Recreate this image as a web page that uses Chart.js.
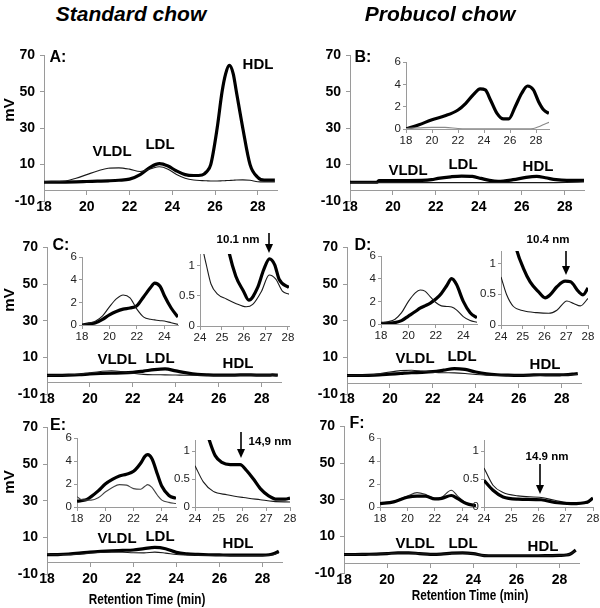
<!DOCTYPE html>
<html>
<head>
<meta charset="utf-8">
<script src="https://cdn.jsdelivr.net/npm/chart.js@4.4.1/dist/chart.umd.min.js"></script>
<style>
  body { margin: 0; background: #fff; }
  #fig { position: relative; width: 600px; height: 608px; overflow: hidden; background: #fff;
         font-family: "Liberation Sans", Arial, Helvetica, sans-serif; color: #000; }
  #fig canvas { position: absolute; }
  .lbl { position: absolute; font-weight: bold; white-space: nowrap; line-height: 1;
         transform: translate(-50%, -50%); }
  .title { font-size: 21px; font-style: italic; }
  .peak { font-size: 15px; }
  .panel { font-size: 16px; }
  .nm { font-size: 11.5px; }
  .axis { font-size: 14px; transform: translate(-50%, -50%) scaleX(0.84); }
  .mv { font-size: 15px; transform: translate(-50%, -50%) rotate(-90deg); }
  #arrows { position: absolute; left: 0; top: 0; }
</style>
</head>
<body>
<div id="fig"></div>
<script>
// ---- data (retention time in min, signal in mV) ----
const mainXTicks = [18, 20, 22, 24, 26, 28];
const mainYTicks = [-10, 10, 30, 50, 70];
const insetXTicks = [18, 20, 22, 24];
const insetBXTicks = [18, 20, 22, 24, 26, 28];
const insetYTicks = [0, 2, 4, 6];
const zoomXTicks = [24, 25, 26, 27, 28];
const zoomYTicks = [0, 0.5, 1];

// A: standard chow
const tA = [18, 19, 19.5, 20, 20.5, 21, 21.5, 22, 22.5, 23, 23.4, 23.8, 24.2, 24.6, 25, 25.4, 25.6, 25.8, 26.1, 26.33, 26.5, 26.67, 26.85, 27, 27.3, 27.64, 28, 28.3, 28.8];
const thickA = [0.3, 0.4, 0.5, 0.7, 0.9, 1.1, 1.4, 2.0, 4.5, 8.8, 10.5, 9.2, 6.5, 4.5, 4.0, 4.3, 6, 10, 30, 50, 60, 64.5, 60, 50, 30, 10, 3, 1.5, 1.5];
const thinA = [0.5, 1.0, 2.5, 4.5, 6.5, 8.0, 8.2, 7.5, 6.2, 7.8, 8.8, 7.5, 4.5, 2.5, 1.5, 1.2, 1.1, 1.0, 1.0, 1.1, 1.2, 1.3, 1.4, 1.5, 1.6, 1.4, 0.6, 0.5, 0.5];

// B: probucol chow
const tB = [18, 19.26, 19.34, 20.7, 21.8, 22.1, 22.7, 23.2, 23.7, 24.1, 24.5, 24.9, 25.6, 26.2, 26.7, 27.1, 27.6, 28.1, 28.9];
const thickB = [0.3, 0.3, 1.2, 1.2, 1.7, 2.4, 3.3, 3.7, 3.5, 2.4, 1.3, 0.8, 1.7, 3.0, 3.5, 2.8, 1.7, 1.3, 1.3];
const thinB = [0.1, 0.1, 0.1, 0.1, 0.1, 0.1, 0.1, 0.1, 0.1, 0.1, 0.1, 0.1, 0.1, 0.1, 0.1, 0.1, 0.1, 0.2, 0.5];
const tBi = [18, 19, 20, 21, 22, 22.6, 23.2, 23.7, 24.1, 24.5, 25, 25.5, 25.9, 26.4, 26.9, 27.35, 27.8, 28.2, 28.6, 29];
const thickBi = [0, 0.38, 0.83, 1.18, 1.7, 2.3, 3.1, 3.6, 3.5, 2.6, 1.4, 0.9, 0.9, 2.0, 3.2, 3.85, 3.5, 2.45, 1.7, 1.4];
const thinBi = [0.05, 0.1, 0.15, 0.15, 0.05, 0.02, 0.02, 0.02, 0.02, 0.02, 0.02, 0.02, 0.02, 0.02, 0.02, 0.02, 0.05, 0.2, 0.4, 0.6];

// C to F main traces share one time grid
const tMain = [18, 18.5, 19, 19.5, 20, 20.5, 21, 21.5, 22, 22.5, 23, 23.5, 24, 24.5, 25, 25.5, 26, 26.5, 27, 27.5, 28, 28.3, 28.5, 28.75];
const thickC = [0.2, 0.2, 0.3, 0.5, 0.9, 1.2, 1.4, 1.5, 1.8, 2.5, 3.3, 3.7, 2.6, 1.5, 0.7, 0.4, 0.3, 0.3, 0.4, 0.4, 0.3, 0.3, 0.4, 0.3];
const thinC = [0.1, 0.2, 0.4, 0.8, 1.6, 2.3, 2.7, 2.2, 1.3, 0.7, 0.5, 0.45, 0.35, 0.25, 0.2, 0.2, 0.2, 0.2, 0.3, 0.3, 0.3, 0.3, 0.3, 0.3];
const thickD = [0.1, 0.1, 0.2, 0.4, 0.8, 1.2, 1.6, 1.8, 2.2, 3.0, 3.9, 3.4, 2.0, 1.0, 0.5, 0.3, 0.2, 0.3, 0.5, 0.4, 0.5, 0.6, 0.8, 1.2];
const thinD = [0.1, 0.2, 0.4, 1.0, 2.0, 2.75, 3.0, 2.5, 1.9, 1.6, 1.55, 1.2, 0.6, 0.3, 0.2, 0.2, 0.2, 0.2, 0.3, 0.3, 0.4, 0.4, 0.5, 0.6];
const thickE = [0.5, 0.6, 0.9, 1.4, 2.0, 2.4, 2.7, 2.9, 3.1, 3.8, 4.5, 3.8, 1.8, 1.0, 0.7, 0.5, 0.4, 0.3, 0.25, 0.3, 0.3, 0.5, 1.0, 2.5];
const thinE = [0.8, 0.6, 0.6, 0.8, 1.3, 1.7, 1.95, 1.9, 1.6, 1.55, 1.95, 1.4, 0.6, 0.4, 0.3, 0.2, 0.2, 0.15, 0.1, 0.1, 0.1, 0.2, 0.5, 1.5];
const thickF = [0.1, 0.1, 0.2, 0.3, 0.6, 1.0, 1.0, 0.6, 0.2, 0.3, 0.8, 1.0, 0.6, -0.5, -0.6, -0.6, -0.6, -0.6, -0.6, -0.5, -0.4, -0.2, 0.4, 2.5];
const thinF = [0.1, 0.1, 0.2, 0.3, 0.6, 0.9, 0.9, 0.6, 0.2, 0.3, 0.7, 0.9, 0.5, -0.5, -0.6, -0.6, -0.6, -0.6, -0.6, -0.5, -0.4, -0.2, 0.4, 2.2];

// insets, VLDL/LDL range (0-6 mV)
const tCl = [18, 18.5, 19, 19.5, 20, 20.5, 21, 21.5, 22, 22.5, 23, 23.3, 23.7, 24, 24.5, 25];
const thickCl = [0, 0.1, 0.2, 0.5, 0.9, 1.2, 1.4, 1.5, 1.7, 2.5, 3.3, 3.7, 3.4, 2.6, 1.5, 0.7];
const thinCl = [0, 0.15, 0.35, 0.8, 1.6, 2.3, 2.65, 2.4, 1.4, 0.7, 0.5, 0.45, 0.38, 0.35, 0.2, 0.05];
const tDl = [18, 18.5, 19, 19.5, 20, 20.5, 20.85, 21.2, 21.6, 22, 22.4, 22.8, 23.15, 23.5, 24, 24.5, 25];
const thickDl = [0.05, 0.08, 0.12, 0.3, 0.7, 1.1, 1.4, 1.6, 1.85, 2.2, 2.7, 3.4, 4.0, 3.5, 2.0, 1.0, 0.55];
const thinDl = [0.1, 0.2, 0.4, 1.0, 2.0, 2.75, 3.0, 2.9, 2.4, 1.9, 1.6, 1.55, 1.5, 1.25, 0.65, 0.3, 0.15];
const tEl = [18, 18.3, 18.7, 19, 19.5, 20, 20.5, 21, 21.5, 22, 22.5, 22.8, 23, 23.3, 23.7, 24, 24.5, 25];
const thickEl = [0.5, 0.55, 0.65, 0.9, 1.4, 2.0, 2.4, 2.7, 2.85, 3.1, 3.8, 4.4, 4.55, 4.2, 2.8, 1.8, 1.0, 0.75];
const thinEl = [0.9, 0.65, 0.6, 0.6, 0.8, 1.3, 1.7, 1.95, 1.9, 1.6, 1.55, 1.8, 1.95, 1.7, 1.0, 0.6, 0.4, 0.3];
const tFl = [18, 19, 20, 20.7, 21.3, 22, 22.5, 23.2, 23.7, 24.3, 25];
const thickFl = [0.3, 0.45, 0.85, 0.95, 0.95, 0.7, 0.75, 1.0, 0.7, 0.3, 0.1];
const thinFl = [0.35, 0.5, 0.95, 1.25, 1.1, 0.75, 0.85, 1.45, 0.9, 0.35, 0.1];

// insets, HDL range (0-1.2 mV)
const tCrThin = [24, 24.15, 24.3, 24.5, 24.8, 25.2, 25.6, 26.1, 26.4, 26.8, 27.15, 27.45, 27.75, 28.05];
const thinCr = [1.6, 1.25, 1.0, 0.7, 0.53, 0.45, 0.38, 0.32, 0.36, 0.58, 0.85, 0.78, 0.58, 0.53];
const tCrThick = [25.0, 25.28, 25.63, 25.98, 26.22, 26.62, 26.9, 27.16, 27.4, 27.6, 28.05];
const thickCr = [1.9, 1.3, 0.83, 0.58, 0.43, 0.64, 0.94, 1.12, 1.02, 0.78, 0.64];
const tDrThin = [24, 24.26, 24.57, 25.03, 25.65, 26.2, 26.57, 27.03, 27.34, 27.65, 28];
const thinDr = [0.78, 0.49, 0.3, 0.23, 0.2, 0.19, 0.24, 0.39, 0.35, 0.31, 0.43];
const tDrThick = [24.5, 24.72, 25.03, 25.34, 25.72, 26.03, 26.26, 26.57, 26.95, 27.2, 27.57, 27.77, 28];
const thickDr = [1.6, 1.22, 0.92, 0.7, 0.54, 0.44, 0.49, 0.62, 0.71, 0.7, 0.54, 0.49, 0.6];
const tErThin = [24, 24.35, 24.77, 25.34, 26.04, 26.75, 27.3, 28];
const thinEr = [0.74, 0.45, 0.28, 0.22, 0.17, 0.13, 0.1, 0.09];
const tErThick = [24.4, 24.6, 24.85, 25.13, 25.48, 25.9, 26.18, 26.46, 26.75, 27.1, 27.45, 27.8, 28];
const thickEr = [1.5, 1.2, 0.92, 0.8, 0.76, 0.76, 0.65, 0.5, 0.33, 0.2, 0.14, 0.14, 0.16];
const tFr = [24, 24.33, 24.7, 25.25, 26.1, 26.6, 27.2, 27.8, 28];
const thinFr = [0.7, 0.39, 0.26, 0.2, 0.17, 0.12, 0.07, 0.07, 0.15];
const thickFr = [0.48, 0.3, 0.18, 0.14, 0.13, 0.08, 0.06, 0.09, 0.16];

// ---- drawing ----
const AXIS_GRAY = '#9a9a9a';
const FONT = 'Liberation Sans';
const fig = document.getElementById('fig');

function series(ts, ys) {
    return ts.map((t, i) => ({x: t, y: ys[i]}));
}

function thick(ts, ys) { return {t: ts, y: ys, width: 3.2, color: '#000'}; }
function thin(ts, ys, color) { return {t: ts, y: ys, width: 1.1, color: color || '#1a1a1a'}; }

// area = pixel box of the plot area inside the 600x608 figure
function addChart(area, spec) {
    const padL = spec.main ? 40 : 28, padT = 10, padR = 14, padB = 30;
    const l = Math.round(area.l), t = Math.round(area.t);
    const w = Math.round(area.r) - l, h = Math.round(area.b) - t;
    const canvas = document.createElement('canvas');
    canvas.width = w + padL + padR;
    canvas.height = h + padT + padB;
    canvas.style.left = (l - padL) + 'px';
    canvas.style.top = (t - padT) + 'px';
    fig.appendChild(canvas);

    const tickFont = spec.main ? {family: FONT, size: 14, weight: 'bold'} : {family: FONT, size: 11.5};
    const tickColor = spec.main ? '#000' : '#222';
    const grid = {drawOnChartArea: false, tickLength: spec.main ? 4 : 3, color: AXIS_GRAY};
    const plain = v => String(v);

    return new Chart(canvas.getContext('2d'), {
        type: 'line',
        data: {
            datasets: spec.lines.map(ln => ({
                data: series(ln.t, ln.y),
                borderColor: ln.color,
                borderWidth: ln.width,
                pointRadius: 0,
                cubicInterpolationMode: 'monotone',
                fill: false
            }))
        },
        options: {
            responsive: false,
            animation: false,
            devicePixelRatio: 1,
            events: [],
            layout: {padding: {left: 0, top: padT, right: padR, bottom: padB}},
            plugins: {legend: {display: false}, tooltip: {enabled: false}},
            scales: {
                x: {
                    type: 'linear',
                    min: spec.xMin,
                    max: spec.xMax,
                    // axis line sits at a data value so labels are not clipped away
                    position: {y: spec.axisAt},
                    afterFit: s => { s.height = 0; },
                    afterBuildTicks: s => { s.ticks = spec.xTicks.map(v => ({value: v})); },
                    grid: grid,
                    border: {color: AXIS_GRAY, width: 1},
                    ticks: {font: tickFont, color: tickColor, padding: spec.main ? 4 : 2,
                            maxRotation: 0, autoSkip: false, callback: plain}
                },
                y: {
                    type: 'linear',
                    min: spec.yMin,
                    max: spec.yMax,
                    afterFit: s => { s.width = padL; },
                    afterBuildTicks: s => { s.ticks = spec.yTicks.map(v => ({value: v})); },
                    grid: grid,
                    border: {color: AXIS_GRAY, width: 1},
                    ticks: {font: tickFont, color: tickColor, padding: spec.main ? 5 : 2,
                            autoSkip: false, callback: plain}
                }
            }
        }
    });
}

function mainPanel(area, axisAt, lines) {
    return addChart(area, {main: true, xMin: 18, xMax: 28.9, yMin: -10, yMax: 70, axisAt: axisAt,
        xTicks: mainXTicks, yTicks: mainYTicks, lines: lines});
}

function lipoInset(area, xMax, xTicks, lines) {
    return addChart(area, {main: false, xMin: 18, xMax: xMax, yMin: 0, yMax: 6, axisAt: 0,
        xTicks: xTicks, yTicks: insetYTicks, lines: lines});
}

function hdlInset(area, xMax, lines) {
    return addChart(area, {main: false, xMin: 24, xMax: xMax, yMin: 0, yMax: 1.2, axisAt: 0,
        xTicks: zoomXTicks, yTicks: zoomYTicks, lines: lines});
}

// main panels
mainPanel({l: 44, t: 52, r: 277, b: 201}, -4.5, [thin(tA, thinA), thick(tA, thickA)]);
mainPanel({l: 350, t: 52, r: 584, b: 201}, -4.5, [thin(tB, thinB), thick(tB, thickB)]);
mainPanel({l: 47, t: 244, r: 281, b: 394}, -3.6, [thin(tMain, thinC), thick(tMain, thickC)]);
mainPanel({l: 347, t: 244, r: 581, b: 394}, -4, [thin(tMain, thinD), thick(tMain, thickD)]);
mainPanel({l: 47, t: 424, r: 282, b: 574}, -3.6, [thin(tMain, thinE), thick(tMain, thickE)]);
mainPanel({l: 344, t: 423, r: 579, b: 573}, -5, [thin(tMain, thinF), thick(tMain, thickF)]);

// insets
lipoInset({l: 406, t: 62, r: 549, b: 129}, 29, insetBXTicks, [thin(tBi, thinBi, '#8a8a8a'), thick(tBi, thickBi)]);
lipoInset({l: 82, t: 257, r: 178, b: 325}, 25, insetXTicks, [thin(tCl, thinCl), thick(tCl, thickCl)]);
hdlInset({l: 200, t: 254, r: 289, b: 326}, 28.05, [thin(tCrThin, thinCr), thick(tCrThick, thickCr)]);
lipoInset({l: 381, t: 256, r: 477, b: 324}, 25, insetXTicks, [thin(tDl, thinDl), thick(tDl, thickDl)]);
hdlInset({l: 501, t: 251, r: 588, b: 325}, 28, [thin(tDrThin, thinDr), thick(tDrThick, thickDr)]);
lipoInset({l: 77, t: 438, r: 176, b: 507}, 25, insetXTicks, [thin(tEl, thinEl, '#444'), thick(tEl, thickEl)]);
hdlInset({l: 195, t: 440, r: 290, b: 507}, 28, [thin(tErThin, thinEr), thick(tErThick, thickEr)]);
lipoInset({l: 380, t: 438, r: 476, b: 507}, 25, insetXTicks, [thick(tFl, thickFl), thin(tFl, thinFl, '#333')]);
hdlInset({l: 484, t: 440, r: 593, b: 507}, 28, [thick(tFr, thickFr), thin(tFr, thinFr)]);

// ---- text ----
function addText(text, x, y, cls) {
    const d = document.createElement('div');
    d.className = 'lbl ' + cls;
    d.textContent = text;
    d.style.left = x + 'px';
    d.style.top = y + 'px';
    fig.appendChild(d);
}

addText('Standard chow', 131, 13, 'title');
addText('Probucol chow', 440, 13, 'title');

[['A:', 58, 57], ['B:', 363, 57], ['C:', 61, 245], ['D:', 363, 245], ['E:', 58, 425], ['F:', 357, 423]]
    .forEach(p => addText(p[0], p[1], p[2], 'panel'));

[[112, 150, 160, 143, 258, 63], [408, 169, 463, 163, 538, 165], [117, 358, 160, 357, 238, 362],
 [415, 357, 462, 355, 545, 363], [117, 537, 160, 535, 238, 542], [415, 542, 463, 542, 543, 545]]
    .forEach(p => {
        addText('VLDL', p[0], p[1], 'peak');
        addText('LDL', p[2], p[3], 'peak');
        addText('HDL', p[4], p[5], 'peak');
    });

addText('mV', 8, 110, 'mv');
addText('mV', 8, 300, 'mv');
addText('mV', 8, 482, 'mv');

addText('10.1 nm', 238, 240, 'nm');
addText('10.4 nm', 548, 240, 'nm');
addText('14,9 nm', 270, 442, 'nm');
addText('14.9 nm', 547, 457, 'nm');

addText('Retention Time  (min)', 147, 599, 'axis');
addText('Retention Time  (min)', 470, 595, 'axis');

// arrows pointing at the HDL shoulder
const svgNS = 'http://www.w3.org/2000/svg';
const svg = document.createElementNS(svgNS, 'svg');
svg.setAttribute('id', 'arrows');
svg.setAttribute('width', 600);
svg.setAttribute('height', 608);
[[269, 233, 253], [566, 251, 275], [241, 432, 458], [540, 464, 494]].forEach(a => {
    const [x, y1, y2] = a;
    const line = document.createElementNS(svgNS, 'line');
    line.setAttribute('x1', x); line.setAttribute('x2', x);
    line.setAttribute('y1', y1); line.setAttribute('y2', y2 - 7);
    line.setAttribute('stroke', '#000'); line.setAttribute('stroke-width', 1.6);
    svg.appendChild(line);
    const head = document.createElementNS(svgNS, 'polygon');
    head.setAttribute('points', `${x - 4},${y2 - 9} ${x + 4},${y2 - 9} ${x},${y2}`);
    head.setAttribute('fill', '#000');
    svg.appendChild(head);
});
fig.appendChild(svg);
</script>
</body>
</html>
